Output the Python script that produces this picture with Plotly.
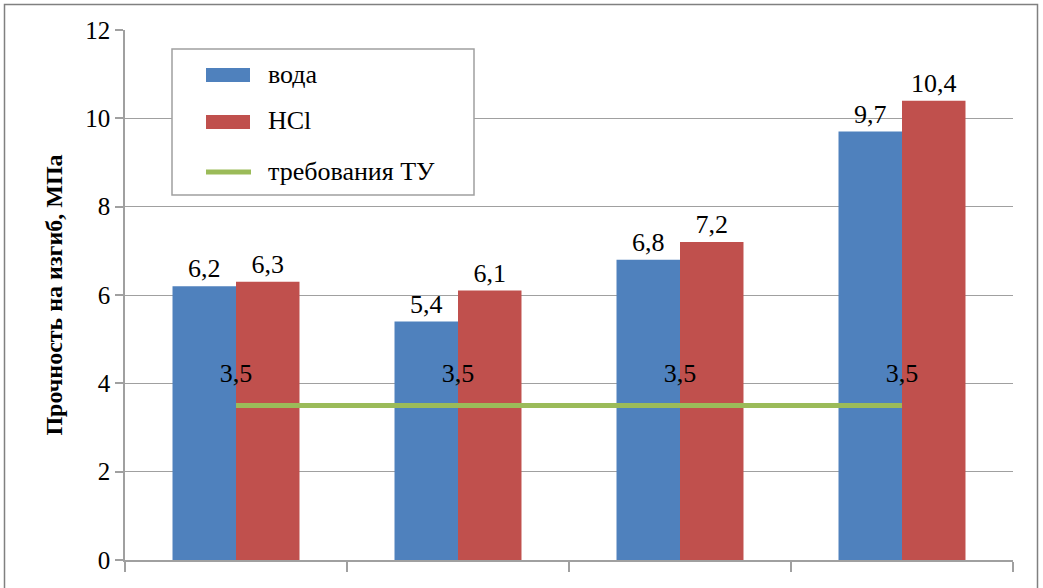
import plotly.graph_objects as go

categories = ["1", "2", "3", "4"]
voda = [6.2, 5.4, 6.8, 9.7]
hcl = [6.3, 6.1, 7.2, 10.4]
tu_req = [3.5, 3.5, 3.5, 3.5]
y_ticks = [0, 2, 4, 6, 8, 10, 12]
series_names = ["вода", "HCl", "требования ТУ"]

FONT = "Liberation Serif"
BLUE, RED, GREEN = "#4F81BD", "#C0504D", "#9BBB59"
LABEL_FONT = dict(size=26, color="black", family=FONT)

fig = go.Figure()
fig.add_trace(go.Bar(
    x=categories, y=voda, name=series_names[0], marker_color=BLUE,
    marker_line_width=0, texttemplate="%{y:.1f}", textposition="outside",
    textfont=LABEL_FONT, cliponaxis=False,
))
fig.add_trace(go.Bar(
    x=categories, y=hcl, name=series_names[1], marker_color=RED,
    marker_line_width=0, texttemplate="%{y:.1f}", textposition="outside",
    textfont=LABEL_FONT, cliponaxis=False,
))
# invisible markers give the value labels some clearance above the line
fig.add_trace(go.Scatter(
    x=categories, y=tu_req, name=series_names[2], mode="lines+markers+text",
    line=dict(color=GREEN, width=5),
    marker=dict(size=26, color="rgba(0,0,0,0)"),
    texttemplate="%{y:.1f}", textposition="top center",
    textfont=LABEL_FONT,
))

L, R, T, B = 125, 30, 30, 28
W, H = 1043, 588
pw, ph = W - L - R, H - T - B


def px(x):
    return (x - L) / pw


def py(y):
    return (H - B - y) / ph


shapes = [
    # outer chart frame
    dict(type="rect", xref="paper", yref="paper",
         x0=px(4.5), x1=px(1037.5), y0=py(620), y1=py(4.5),
         line=dict(color="#808080", width=1.5), fillcolor="rgba(0,0,0,0)",
         layer="above"),
    # legend box
    dict(type="rect", xref="paper", yref="paper",
         x0=px(172), x1=px(474), y0=py(195), y1=py(49),
         line=dict(color="#a0a0a0", width=1.5), fillcolor="white",
         layer="above"),
    # legend swatches
    dict(type="rect", xref="paper", yref="paper",
         x0=px(206), x1=px(250), y0=py(82), y1=py(68),
         line=dict(width=0), fillcolor=BLUE, layer="above"),
    dict(type="rect", xref="paper", yref="paper",
         x0=px(206), x1=px(250), y0=py(129), y1=py(115),
         line=dict(width=0), fillcolor=RED, layer="above"),
    dict(type="line", xref="paper", yref="paper",
         x0=px(206), x1=px(251), y0=py(172), y1=py(172),
         line=dict(color=GREEN, width=5), layer="above"),
]

annotations = [
    dict(text=name, xref="paper", yref="paper", x=px(266), y=py(yc),
         xanchor="left", yanchor="middle", showarrow=False,
         font=dict(size=26, family=FONT, color="black"))
    for name, yc in zip(series_names, [74, 121, 171])
]

fig.update_layout(
    width=W, height=H,
    margin=dict(l=L, r=R, t=T, b=B),
    paper_bgcolor="white", plot_bgcolor="white",
    font=dict(family=FONT, size=24, color="black"),
    separators=", ",
    barmode="group", bargap=0.428, bargroupgap=0,
    showlegend=False,
    xaxis=dict(
        type="category", showticklabels=False, showgrid=False,
        showline=True, linecolor="#a0a0a0", linewidth=1.5,
        ticks="outside", tickson="boundaries", ticklen=10,
        tickcolor="#a0a0a0", tickwidth=1.5,
    ),
    yaxis=dict(
        range=[0, 12], tickvals=y_ticks, showgrid=True,
        gridcolor="#a0a0a0", gridwidth=1.2,
        showline=True, linecolor="#a0a0a0", linewidth=1.5,
        ticks="outside", ticklen=8, tickcolor="#a0a0a0", tickwidth=1.5,
        tickfont=dict(size=25, family=FONT),
        zeroline=False,
        title=dict(text="<b>Прочность на изгиб, МПа</b>",
                   font=dict(size=24, family=FONT), standoff=16),
    ),
    shapes=shapes,
    annotations=annotations,
)

fig.write_html("out.html")
